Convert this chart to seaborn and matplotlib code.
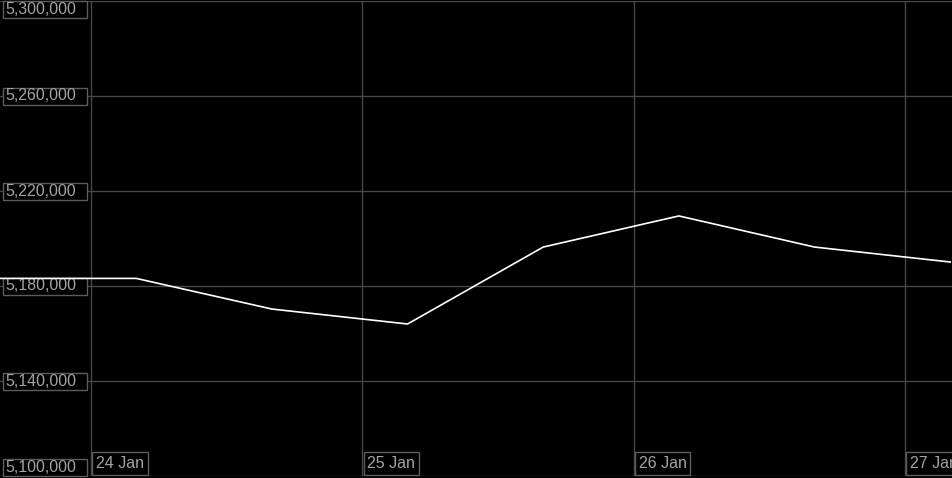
import seaborn as sns
import pandas as pd
import numpy as np
import matplotlib.pyplot as plt
import matplotlib.dates as mdates
import matplotlib.transforms as mtransforms
from matplotlib.patches import Rectangle

## readings every 12 hours
times = ["2023-01-23 16:00", "2023-01-24 04:00", "2023-01-24 16:00", "2023-01-25 04:00",
         "2023-01-25 16:00", "2023-01-26 04:00", "2023-01-26 16:00", "2023-01-27 04:00"]
values = [5183200, 5183200, 5170300, 5164000, 5196400, 5209500, 5196400, 5190100]

y_ticks = [5100000, 5140000, 5180000, 5220000, 5260000, 5300000]
x_ticks = ["2023-01-24", "2023-01-25", "2023-01-26", "2023-01-27"]
x_tick_labels = ["24 Jan", "25 Jan", "26 Jan", "27 Jan"]

grid_col = "#474747"
text_col = "#a3a3a3"
box_col = "#5c5c5c"

df = pd.DataFrame({"time": pd.to_datetime(times), "value": values})

W, H = 953, 478
fig = plt.figure(figsize=(W / 100, H / 100), dpi=100, facecolor="black")
ax = fig.add_axes([0, 2 / H, 1, 475 / H])
ax.set_facecolor("black")

sns.lineplot(data=df, x="time", y="value", color="white", linewidth=1.2, ax=ax, zorder=5)

day0 = pd.Timestamp("2023-01-24")
px_day = 271.33
ax.set_xlim(mdates.date2num(day0 - pd.Timedelta(days=91 / px_day)),
            mdates.date2num(day0 + pd.Timedelta(days=862 / px_day)))
ax.set_ylim(5100000, 5300000)

# grid lines
for v in y_ticks:
    ax.axhline(v, color=grid_col, linewidth=1, zorder=1)
for d in x_ticks:
    ax.axvline(mdates.date2num(pd.Timestamp(d)), color=grid_col, linewidth=1, zorder=1)

ax.set_xlabel("")
ax.set_ylabel("")
ax.set_xticks([])
ax.set_yticks([])
for s in ax.spines.values():
    s.set_visible(False)

fs = 11.5
font = "Liberation Sans"
px_val = 200000 / 475  # value per pixel
trans_y = mtransforms.blended_transform_factory(ax.transAxes, ax.transData)

# y labels in fixed width boxes
bh = 17
for v in y_ticks:
    lo = v - bh / 2 * px_val
    hi = v + bh / 2 * px_val
    if hi > 5300000:
        lo, hi = 5300000 - bh * px_val, 5300000
    if lo < 5100000:
        lo, hi = 5100000, 5100000 + bh * px_val
    ax.add_patch(Rectangle((3 / W, lo), 84 / W, hi - lo, transform=trans_y,
                           facecolor="black", edgecolor=box_col, linewidth=1, zorder=3, clip_on=False))
    ax.text(5 / W, (lo + hi) / 2, f"{v:,}", transform=trans_y, color=text_col,
            fontsize=fs, family=font, va="center", ha="left", zorder=4)

# x labels
trans_x = mtransforms.blended_transform_factory(ax.transData, ax.transAxes)
offset = mtransforms.ScaledTranslation(5 / 100, 0, fig.dpi_scale_trans)
for d, lab in zip(x_ticks, x_tick_labels):
    ax.text(mdates.date2num(pd.Timestamp(d)), 5 / 475, lab, transform=trans_x + offset,
            color=text_col, fontsize=fs, family=font, va="bottom", ha="left", zorder=4,
            bbox=dict(boxstyle="square,pad=0.22", facecolor="black", edgecolor=box_col, linewidth=1))

fig.savefig("out.png", dpi=100, facecolor="black")
